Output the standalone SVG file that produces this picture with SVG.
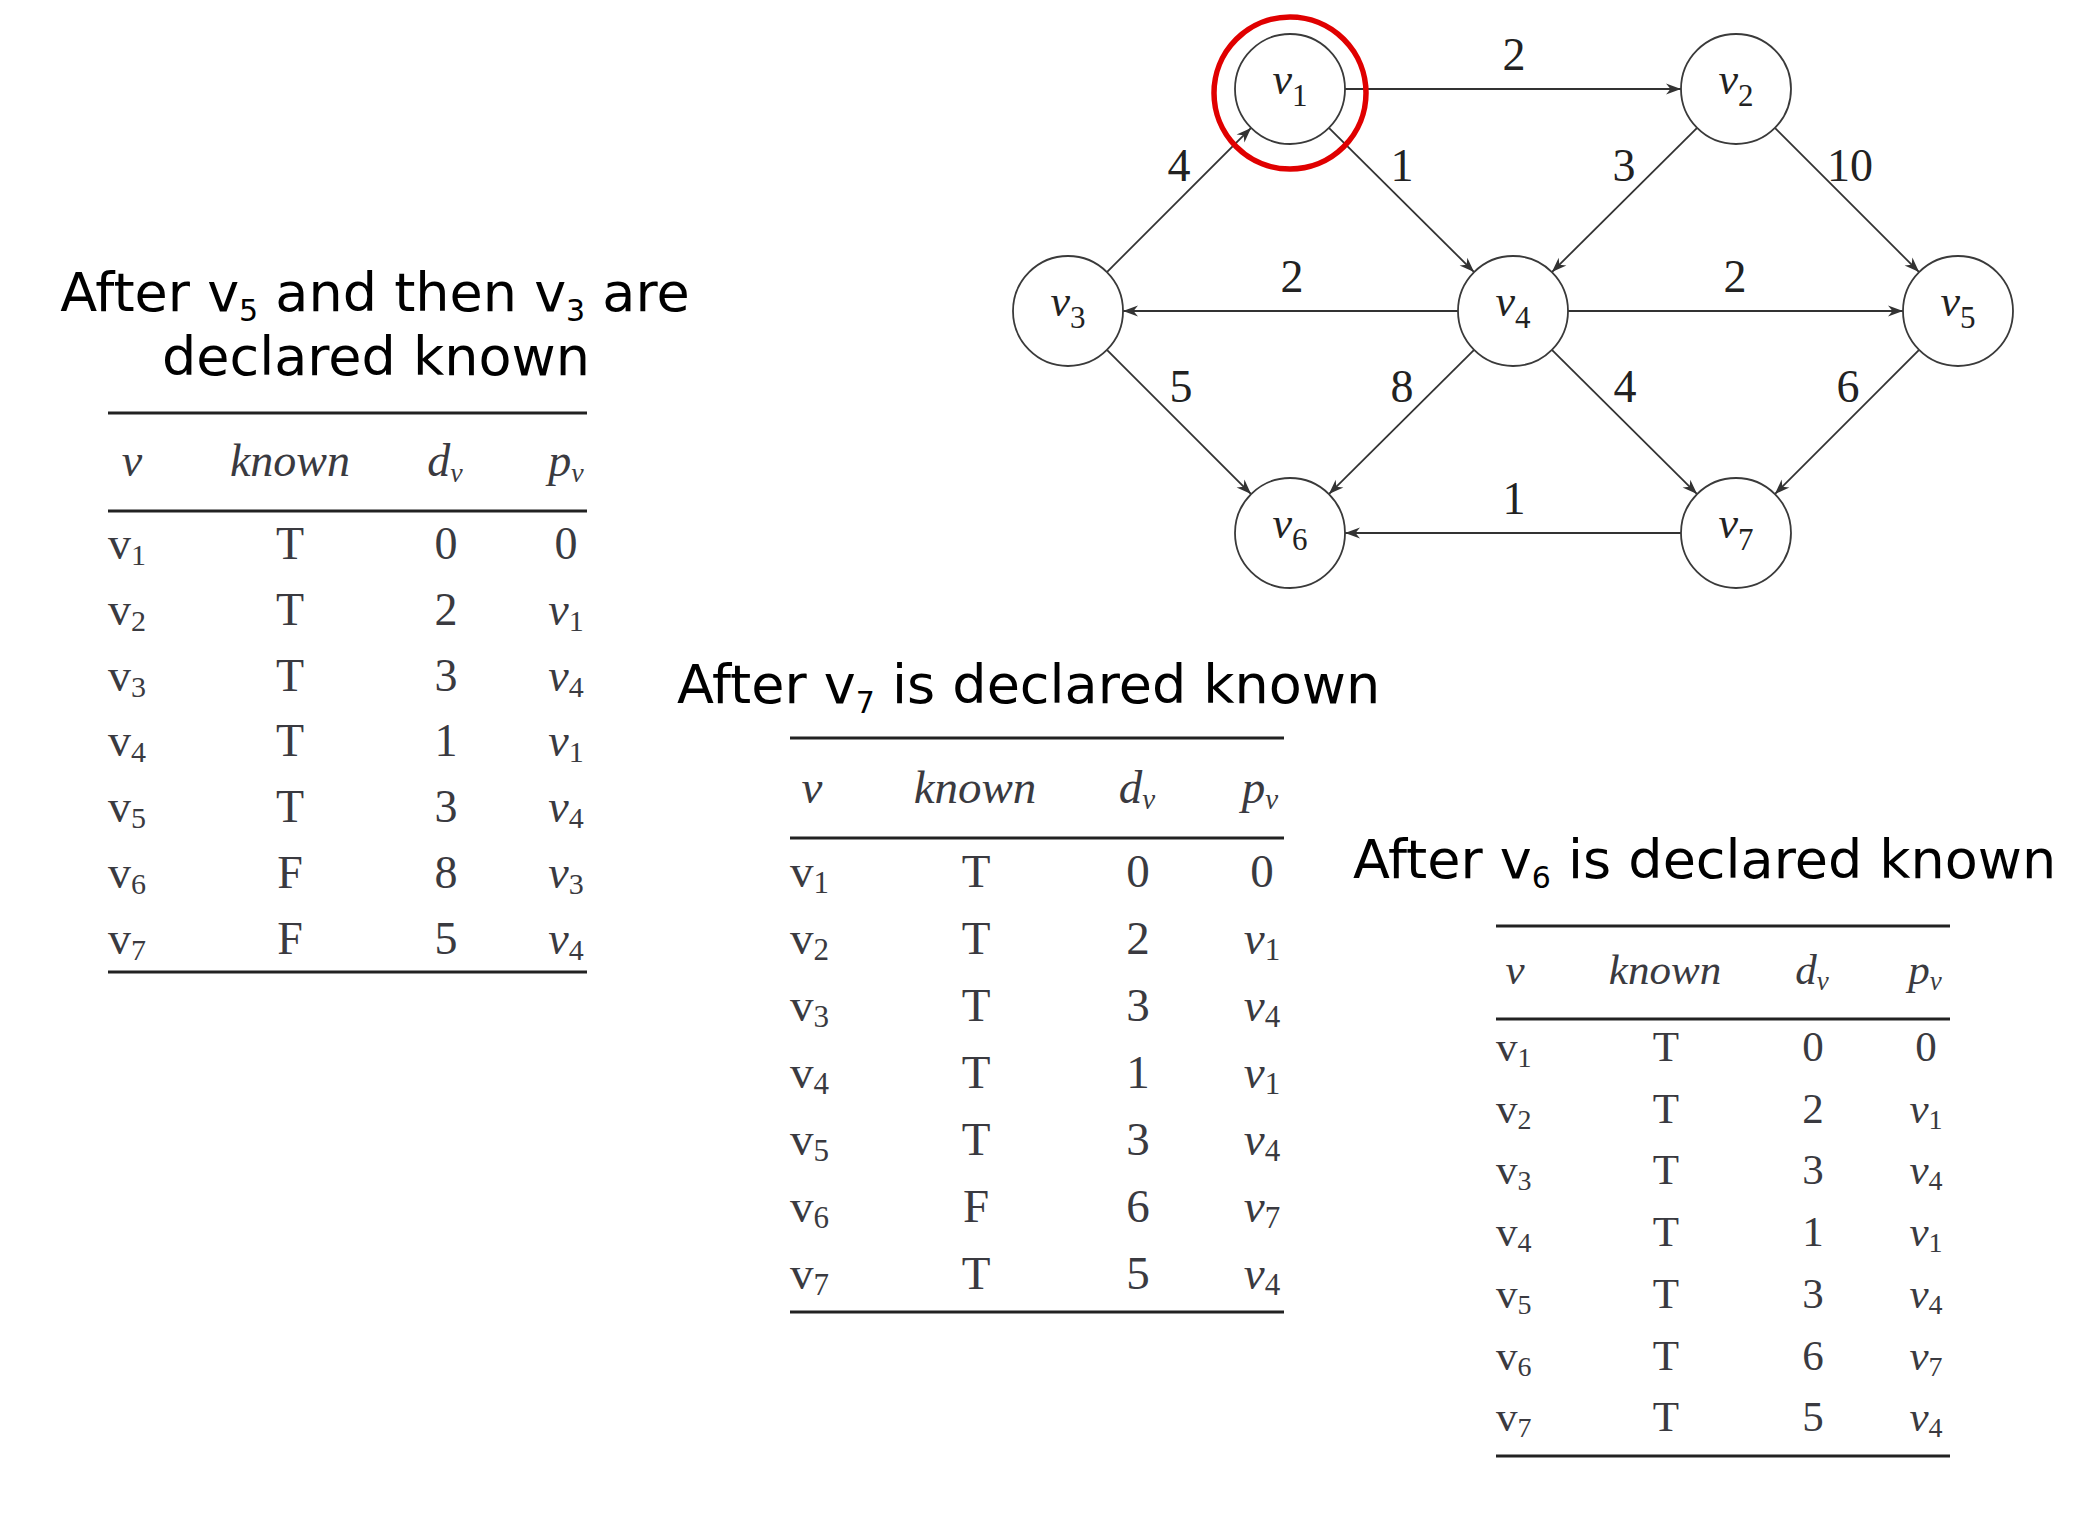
<svg xmlns="http://www.w3.org/2000/svg" width="2095" height="1520" viewBox="0 0 2095 1520">
<style>
.title{font-family:"DejaVu Sans",Verdana,sans-serif;font-size:54px;fill:#000}
.sub{font-size:30px}
.node circle{fill:#fff;stroke:#3a3a3a;stroke-width:1.8}
.nl{font-family:"Liberation Serif","Times New Roman",serif;font-style:italic;font-size:44px;fill:#222;text-anchor:middle}
.el{font-family:"Liberation Serif","Times New Roman",serif;font-size:46px;fill:#222;text-anchor:middle}
.edge line{stroke:#333;stroke-width:1.8;marker-end:url(#arr)}
.tl{stroke:#222;stroke-width:3}
.tt{font-family:"Liberation Serif","Times New Roman",serif;fill:#3a3a40}
.c{text-anchor:middle}
.i{font-style:italic}
</style>
<defs>
<marker id="arr" markerUnits="userSpaceOnUse" markerWidth="18" markerHeight="14" viewBox="-17 -7 18 14" refX="0" refY="0" orient="auto">
<path d="M0,0 L-15,-5.5 L-10.5,0 L-15,5.5 Z" fill="#333"/>
</marker>
</defs>
<rect width="2095" height="1520" fill="#fff"/>

<g id="connectors" class="edge">
<line x1="1345" y1="89" x2="1681" y2="89"/>
<line x1="1106.9" y1="272.1" x2="1251.1" y2="127.9"/>
<line x1="1328.9" y1="127.9" x2="1474.1" y2="272.1"/>
<line x1="1697.1" y1="127.9" x2="1551.9" y2="272.1"/>
<line x1="1774.9" y1="127.9" x2="1919.1" y2="272.1"/>
<line x1="1458" y1="311" x2="1123" y2="311"/>
<line x1="1568" y1="311" x2="1903" y2="311"/>
<line x1="1106.9" y1="349.9" x2="1251.1" y2="494.1"/>
<line x1="1474.1" y1="349.9" x2="1328.9" y2="494.1"/>
<line x1="1551.9" y1="349.9" x2="1697.1" y2="494.1"/>
<line x1="1919.1" y1="349.9" x2="1774.9" y2="494.1"/>
<line x1="1681" y1="533" x2="1345" y2="533"/>
</g>

<g id="edge-labels">
<text class="el" x="1514" y="70">2</text>
<text class="el" x="1179" y="181">4</text>
<text class="el" x="1402" y="181">1</text>
<text class="el" x="1624" y="181">3</text>
<text class="el" x="1850" y="181">10</text>
<text class="el" x="1292" y="292">2</text>
<text class="el" x="1735" y="292">2</text>
<text class="el" x="1181" y="402">5</text>
<text class="el" x="1402" y="402">8</text>
<text class="el" x="1625" y="402">4</text>
<text class="el" x="1848" y="402">6</text>
<text class="el" x="1514" y="514">1</text>
</g>

<g id="v1" class="node"><circle cx="1290" cy="89" r="55"/><text class="nl" x="1290" y="94">v<tspan font-style="normal" font-size="31" dy="12">1</tspan></text></g>
<g id="v2" class="node"><circle cx="1736" cy="89" r="55"/><text class="nl" x="1736" y="94">v<tspan font-style="normal" font-size="31" dy="12">2</tspan></text></g>
<g id="v3" class="node"><circle cx="1068" cy="311" r="55"/><text class="nl" x="1068" y="316">v<tspan font-style="normal" font-size="31" dy="12">3</tspan></text></g>
<g id="v4" class="node"><circle cx="1513" cy="311" r="55"/><text class="nl" x="1513" y="316">v<tspan font-style="normal" font-size="31" dy="12">4</tspan></text></g>
<g id="v5" class="node"><circle cx="1958" cy="311" r="55"/><text class="nl" x="1958" y="316">v<tspan font-style="normal" font-size="31" dy="12">5</tspan></text></g>
<g id="v6" class="node"><circle cx="1290" cy="533" r="55"/><text class="nl" x="1290" y="538">v<tspan font-style="normal" font-size="31" dy="12">6</tspan></text></g>
<g id="v7" class="node"><circle cx="1736" cy="533" r="55"/><text class="nl" x="1736" y="538">v<tspan font-style="normal" font-size="31" dy="12">7</tspan></text></g>

<g id="highlight"><circle cx="1290" cy="93" r="76" fill="none" stroke="#e00000" stroke-width="5.5"/></g>

<g id="title1">
<text class="title" x="375" y="311" text-anchor="middle">After v<tspan class="sub" dy="10">5</tspan><tspan dy="-10"> and then v</tspan><tspan class="sub" dy="10">3</tspan><tspan dy="-10"> are</tspan></text>
<text class="title" x="376" y="375" text-anchor="middle">declared known</text>
</g>
<g id="title2">
<text class="title" x="677" y="703">After v<tspan class="sub" dy="10">7</tspan><tspan dy="-10"> is declared known</tspan></text>
</g>
<g id="title3">
<text class="title" x="1353" y="878">After v<tspan class="sub" dy="10">6</tspan><tspan dy="-10"> is declared known</tspan></text>
</g>

<g id="table1" class="tt" font-size="46">
<line class="tl" x1="108" y1="413" x2="587" y2="413"/>
<line class="tl" x1="108" y1="511" x2="587" y2="511"/>
<line class="tl" x1="108" y1="972" x2="587" y2="972"/>
<text class="c i" x="132" y="476">v</text>
<text class="c i" x="290" y="476">known</text>
<text class="c i" x="445" y="476">d<tspan font-size="28" dy="6">v</tspan></text>
<text class="c i" x="566" y="476">p<tspan font-size="28" dy="6">v</tspan></text>
<text x="108" y="559">v<tspan font-size="30" dy="6">1</tspan></text>
<text x="108" y="625">v<tspan font-size="30" dy="6">2</tspan></text>
<text x="108" y="691">v<tspan font-size="30" dy="6">3</tspan></text>
<text x="108" y="756">v<tspan font-size="30" dy="6">4</tspan></text>
<text x="108" y="822">v<tspan font-size="30" dy="6">5</tspan></text>
<text x="108" y="888">v<tspan font-size="30" dy="6">6</tspan></text>
<text x="108" y="954">v<tspan font-size="30" dy="6">7</tspan></text>
<text class="c" x="290" y="559">T</text>
<text class="c" x="290" y="625">T</text>
<text class="c" x="290" y="691">T</text>
<text class="c" x="290" y="756">T</text>
<text class="c" x="290" y="822">T</text>
<text class="c" x="290" y="888">F</text>
<text class="c" x="290" y="954">F</text>
<text class="c" x="446" y="559">0</text>
<text class="c" x="446" y="625">2</text>
<text class="c" x="446" y="691">3</text>
<text class="c" x="446" y="756">1</text>
<text class="c" x="446" y="822">3</text>
<text class="c" x="446" y="888">8</text>
<text class="c" x="446" y="954">5</text>
<text class="c" x="566" y="559">0</text>
<text class="c i" x="566" y="625">v<tspan font-style="normal" font-size="30" dy="6">1</tspan></text>
<text class="c i" x="566" y="691">v<tspan font-style="normal" font-size="30" dy="6">4</tspan></text>
<text class="c i" x="566" y="756">v<tspan font-style="normal" font-size="30" dy="6">1</tspan></text>
<text class="c i" x="566" y="822">v<tspan font-style="normal" font-size="30" dy="6">4</tspan></text>
<text class="c i" x="566" y="888">v<tspan font-style="normal" font-size="30" dy="6">3</tspan></text>
<text class="c i" x="566" y="954">v<tspan font-style="normal" font-size="30" dy="6">4</tspan></text>
</g>

<g id="table2" class="tt" font-size="47">
<line class="tl" x1="790" y1="738" x2="1284" y2="738"/>
<line class="tl" x1="790" y1="838" x2="1284" y2="838"/>
<line class="tl" x1="790" y1="1312" x2="1284" y2="1312"/>
<text class="c i" x="812" y="803">v</text>
<text class="c i" x="975" y="803">known</text>
<text class="c i" x="1137" y="803">d<tspan font-size="29" dy="6">v</tspan></text>
<text class="c i" x="1260" y="803">p<tspan font-size="29" dy="6">v</tspan></text>
<text x="790" y="887">v<tspan font-size="31" dy="6">1</tspan></text>
<text x="790" y="954">v<tspan font-size="31" dy="6">2</tspan></text>
<text x="790" y="1021">v<tspan font-size="31" dy="6">3</tspan></text>
<text x="790" y="1088">v<tspan font-size="31" dy="6">4</tspan></text>
<text x="790" y="1155">v<tspan font-size="31" dy="6">5</tspan></text>
<text x="790" y="1222">v<tspan font-size="31" dy="6">6</tspan></text>
<text x="790" y="1289">v<tspan font-size="31" dy="6">7</tspan></text>
<text class="c" x="976" y="887">T</text>
<text class="c" x="976" y="954">T</text>
<text class="c" x="976" y="1021">T</text>
<text class="c" x="976" y="1088">T</text>
<text class="c" x="976" y="1155">T</text>
<text class="c" x="976" y="1222">F</text>
<text class="c" x="976" y="1289">T</text>
<text class="c" x="1138" y="887">0</text>
<text class="c" x="1138" y="954">2</text>
<text class="c" x="1138" y="1021">3</text>
<text class="c" x="1138" y="1088">1</text>
<text class="c" x="1138" y="1155">3</text>
<text class="c" x="1138" y="1222">6</text>
<text class="c" x="1138" y="1289">5</text>
<text class="c" x="1262" y="887">0</text>
<text class="c i" x="1262" y="954">v<tspan font-style="normal" font-size="31" dy="6">1</tspan></text>
<text class="c i" x="1262" y="1021">v<tspan font-style="normal" font-size="31" dy="6">4</tspan></text>
<text class="c i" x="1262" y="1088">v<tspan font-style="normal" font-size="31" dy="6">1</tspan></text>
<text class="c i" x="1262" y="1155">v<tspan font-style="normal" font-size="31" dy="6">4</tspan></text>
<text class="c i" x="1262" y="1222">v<tspan font-style="normal" font-size="31" dy="6">7</tspan></text>
<text class="c i" x="1262" y="1289">v<tspan font-style="normal" font-size="31" dy="6">4</tspan></text>
</g>

<g id="table3" class="tt" font-size="43">
<line class="tl" x1="1496" y1="926" x2="1950" y2="926"/>
<line class="tl" x1="1496" y1="1019" x2="1950" y2="1019"/>
<line class="tl" x1="1496" y1="1456" x2="1950" y2="1456"/>
<text class="c i" x="1515" y="984">v</text>
<text class="c i" x="1665" y="984">known</text>
<text class="c i" x="1812" y="984">d<tspan font-size="27" dy="6">v</tspan></text>
<text class="c i" x="1925" y="984">p<tspan font-size="27" dy="6">v</tspan></text>
<text x="1496" y="1061">v<tspan font-size="28" dy="6">1</tspan></text>
<text x="1496" y="1123">v<tspan font-size="28" dy="6">2</tspan></text>
<text x="1496" y="1184">v<tspan font-size="28" dy="6">3</tspan></text>
<text x="1496" y="1246">v<tspan font-size="28" dy="6">4</tspan></text>
<text x="1496" y="1308">v<tspan font-size="28" dy="6">5</tspan></text>
<text x="1496" y="1370">v<tspan font-size="28" dy="6">6</tspan></text>
<text x="1496" y="1431">v<tspan font-size="28" dy="6">7</tspan></text>
<text class="c" x="1666" y="1061">T</text>
<text class="c" x="1666" y="1123">T</text>
<text class="c" x="1666" y="1184">T</text>
<text class="c" x="1666" y="1246">T</text>
<text class="c" x="1666" y="1308">T</text>
<text class="c" x="1666" y="1370">T</text>
<text class="c" x="1666" y="1431">T</text>
<text class="c" x="1813" y="1061">0</text>
<text class="c" x="1813" y="1123">2</text>
<text class="c" x="1813" y="1184">3</text>
<text class="c" x="1813" y="1246">1</text>
<text class="c" x="1813" y="1308">3</text>
<text class="c" x="1813" y="1370">6</text>
<text class="c" x="1813" y="1431">5</text>
<text class="c" x="1926" y="1061">0</text>
<text class="c i" x="1926" y="1123">v<tspan font-style="normal" font-size="28" dy="6">1</tspan></text>
<text class="c i" x="1926" y="1184">v<tspan font-style="normal" font-size="28" dy="6">4</tspan></text>
<text class="c i" x="1926" y="1246">v<tspan font-style="normal" font-size="28" dy="6">1</tspan></text>
<text class="c i" x="1926" y="1308">v<tspan font-style="normal" font-size="28" dy="6">4</tspan></text>
<text class="c i" x="1926" y="1370">v<tspan font-style="normal" font-size="28" dy="6">7</tspan></text>
<text class="c i" x="1926" y="1431">v<tspan font-style="normal" font-size="28" dy="6">4</tspan></text>
</g>
</svg>
